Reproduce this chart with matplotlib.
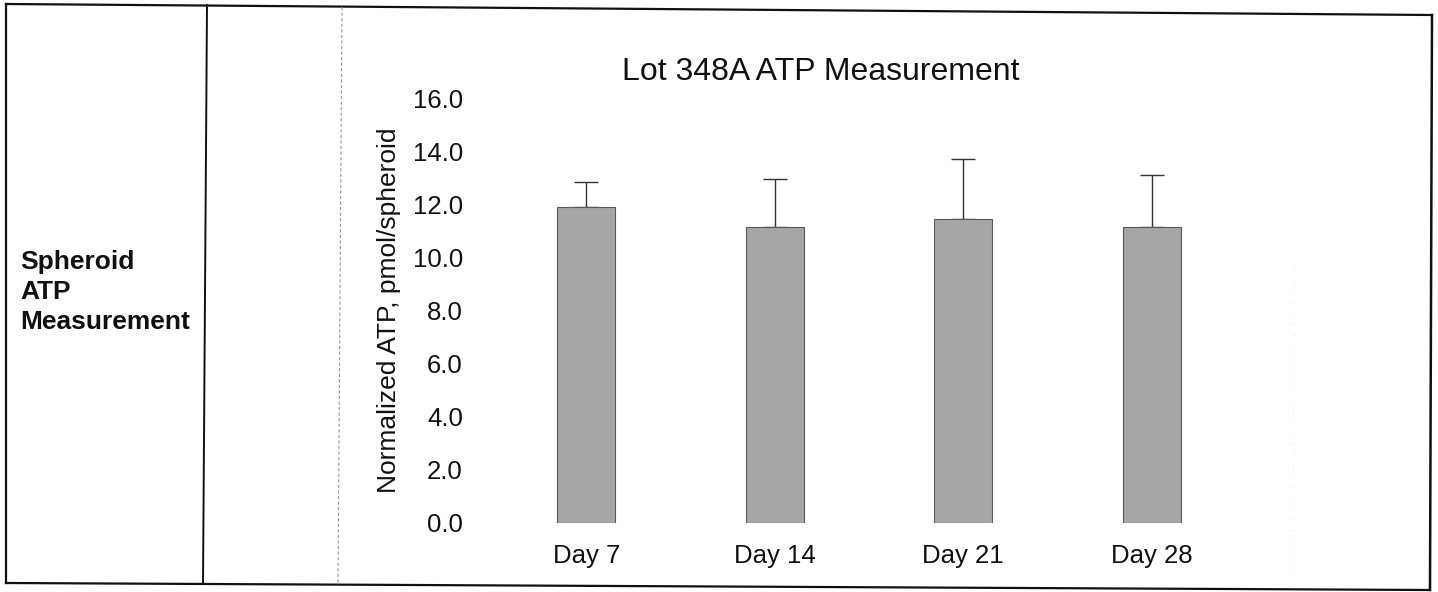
import matplotlib
matplotlib.use("Agg")
import matplotlib.pyplot as plt
from matplotlib.lines import Line2D
import numpy as np

# ---- data ----
categories = ["Day 7", "Day 14", "Day 21", "Day 28"]
atp_values = [11.9, 11.15, 11.45, 11.15]
atp_err_upper = [0.95, 1.8, 2.25, 1.95]
y_ticks = [0, 2, 4, 6, 8, 10, 12, 14, 16]
title_text = "Lot 348A ATP Measurement"
ylabel_text = "Normalized ATP, pmol/spheroid"
row_label = "Spheroid\nATP\nMeasurement"

plt.rcParams['font.family'] = ['Liberation Sans', 'DejaVu Sans']

W, H = 1438, 592
fig = plt.figure(figsize=(W / 100, H / 100), dpi=100)
fig.patch.set_facecolor("white")

def fx(px):
    return px / W

def fy(py):
    return 1 - py / H

# axes placement
ax_left, ax_right = 492, 1246
ax_top, ax_bottom = 98, 523
ax = fig.add_axes([fx(ax_left), fy(ax_bottom), (ax_right - ax_left) / W, (ax_bottom - ax_top) / H])

x = np.arange(len(categories))
ax.bar(x, atp_values, width=0.31, color="#a6a6a6", edgecolor="#5a5a5a", linewidth=0.8, zorder=2)
ax.errorbar(x, atp_values, yerr=[np.zeros(len(x)), atp_err_upper], fmt="none",
            ecolor="#333333", elinewidth=1.0, capsize=8.6, capthick=1.0, zorder=1)

ax.set_xlim(-0.5, len(categories) - 0.5)
ax.set_ylim(0, 16)
ax.set_yticks(y_ticks)
ax.set_yticklabels([f"{v:.1f}" for v in y_ticks])
ax.set_xticks(x)
ax.set_xticklabels(categories)
ax.tick_params(axis="y", length=0, pad=21, labelsize=18.5, colors="#111111")
ax.tick_params(axis="x", length=0, pad=15, labelsize=18.5, colors="#111111")
for s in ax.spines.values():
    s.set_visible(False)
ax.set_facecolor("none")

ax.set_ylabel(ylabel_text, fontsize=19, color="#111111")
ax.yaxis.set_label_coords((401 - ax_left) / (ax_right - ax_left), 0.5)

fig.text(fx(821), fy(80), title_text, ha="center", va="baseline", fontsize=23, color="#111111")

fig.text(fx(20), fy(292), row_label, ha="left", va="center", fontsize=19,
         fontweight="bold", color="#111111", linespacing=1.3)

# table borders (slightly skewed as in the scan)
def fline(x0, y0, x1, y1, **kw):
    fig.add_artist(Line2D([fx(x0), fx(x1)], [fy(y0), fy(y1)], transform=fig.transFigure, **kw))

fline(6, 4, 1432, 15, color="#111111", lw=1.6)
fline(6, 583, 1430, 590, color="#111111", lw=1.6)
fline(6, 4, 6, 583, color="#111111", lw=1.6)
fline(1432, 15, 1430, 590, color="#111111", lw=1.8)
fline(207, 5, 203, 584, color="#111111", lw=1.4)
fline(342, 7, 338, 585, color="#9a9a9a", lw=0.8, linestyle=(0, (3, 2)))
fline(1294, 270, 1293, 585, color="#cccccc", lw=0.6, linestyle=(0, (1, 12)))

fig.savefig("out.png", dpi=100, facecolor="white")
